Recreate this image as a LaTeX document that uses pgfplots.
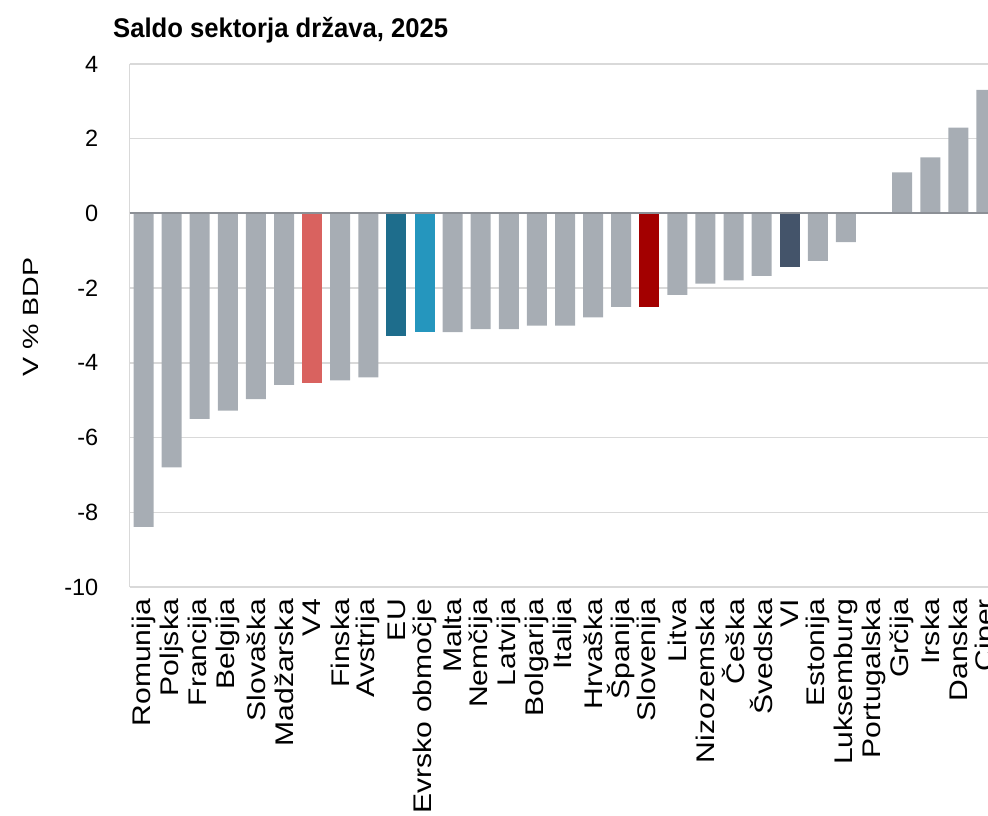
\documentclass[border=0pt]{standalone}
\usepackage{fontspec}
\setmainfont{Liberation Sans}
\newfontfamily\xlabfont[FakeStretch=1.18]{Liberation Sans}
\newfontfamily\ylabfont[FakeStretch=1.3]{Liberation Sans}
\newfontfamily\titlefont[FakeStretch=0.95]{Liberation Sans}
\usepackage{pgfplots}
\pgfplotsset{compat=1.18}
\definecolor{barg}{HTML}{A7ADB4}
\definecolor{vfour}{HTML}{D9625F}
\definecolor{eucol}{HTML}{1E6D8C}
\definecolor{eacol}{HTML}{2596BE}
\definecolor{slocol}{HTML}{A30000}
\definecolor{vicol}{HTML}{44546A}
\definecolor{gridc}{HTML}{D9D9D9}
\definecolor{zeroc}{HTML}{8C9096}
\begin{document}
\begin{tikzpicture}
\begin{axis}[
  at={(129.5pt,228pt)}, anchor=south west,
  scale only axis, width=871pt, height=523pt,
  xmin=-0.5, xmax=30.5, ymin=-10, ymax=4,
  ytick={-10,-8,...,4},
  xtick={0,...,30},
  xticklabels={Romunija,Poljska,Francija,Belgija,Slovaška,Madžarska,V4,Finska,Avstrija,EU,Evrsko območje,Malta,Nemčija,Latvija,Bolgarija,Italija,Hrvaška,Španija,Slovenija,Litva,Nizozemska,Češka,Švedska,VI,Estonija,Luksemburg,Portugalska,Grčija,Irska,Danska,Ciper},
  xticklabel style={rotate=90, anchor=east, font=\xlabfont\fontsize{25.5}{25.5}\selectfont, inner sep=0pt},
  xticklabel shift=12pt,
  yticklabel style={font=\fontsize{23.5}{23.5}\selectfont, anchor=east, inner sep=0pt},
  yticklabel shift=31pt,
  /pgf/number format/assume math mode=true,
  major tick length=0pt,
  ymajorgrids, grid style={gridc, line width=1.5pt},
  axis line style={gridc, line width=1.5pt},
  axis x line*=bottom, axis y line*=left,
  ybar, bar width=20pt, bar shift=0pt,
  ylabel={\ylabfont\fontsize{22}{22}\selectfont V \% BDP},
  ylabel style={at={(axis description cs:-0.113,0.516)}, anchor=center, rotate=0},
  clip=true,
]
\addplot[fill=barg, draw=none] coordinates {
 (0,-8.39) (1,-6.80) (2,-5.50) (3,-5.28) (4,-4.97) (5,-4.59)
 (7,-4.47) (8,-4.39) (11,-3.18) (12,-3.10) (13,-3.10) (14,-3.00)
 (15,-3.00) (16,-2.78) (17,-2.50) (19,-2.18) (20,-1.88) (21,-1.79)
 (22,-1.67) (24,-1.27) (25,-0.77) (26,0) (27,1.10) (28,1.50)
 (29,2.30) (30,3.31)};
\addplot[fill=vfour, draw=none] coordinates {(6,-4.53)};
\addplot[fill=eucol, draw=none] coordinates {(9,-3.28)};
\addplot[fill=eacol, draw=none] coordinates {(10,-3.18)};
\addplot[fill=slocol, draw=none] coordinates {(18,-2.50)};
\addplot[fill=vicol, draw=none] coordinates {(23,-1.43)};
\draw[zeroc, line width=2pt] (axis cs:-0.5,0) -- (axis cs:30.5,0);
\draw[gridc, line width=1.5pt] (axis cs:-0.5,4) -- (axis cs:30.5,4);
\end{axis}
\node[anchor=base west, inner sep=0pt, font=\titlefont\bfseries\fontsize{27}{27}\selectfont] at (113pt,777pt) {Saldo sektorja država, 2025};
\pgfresetboundingbox
\useasboundingbox (0,0) rectangle (988pt,815pt);
\end{tikzpicture}
\end{document}
